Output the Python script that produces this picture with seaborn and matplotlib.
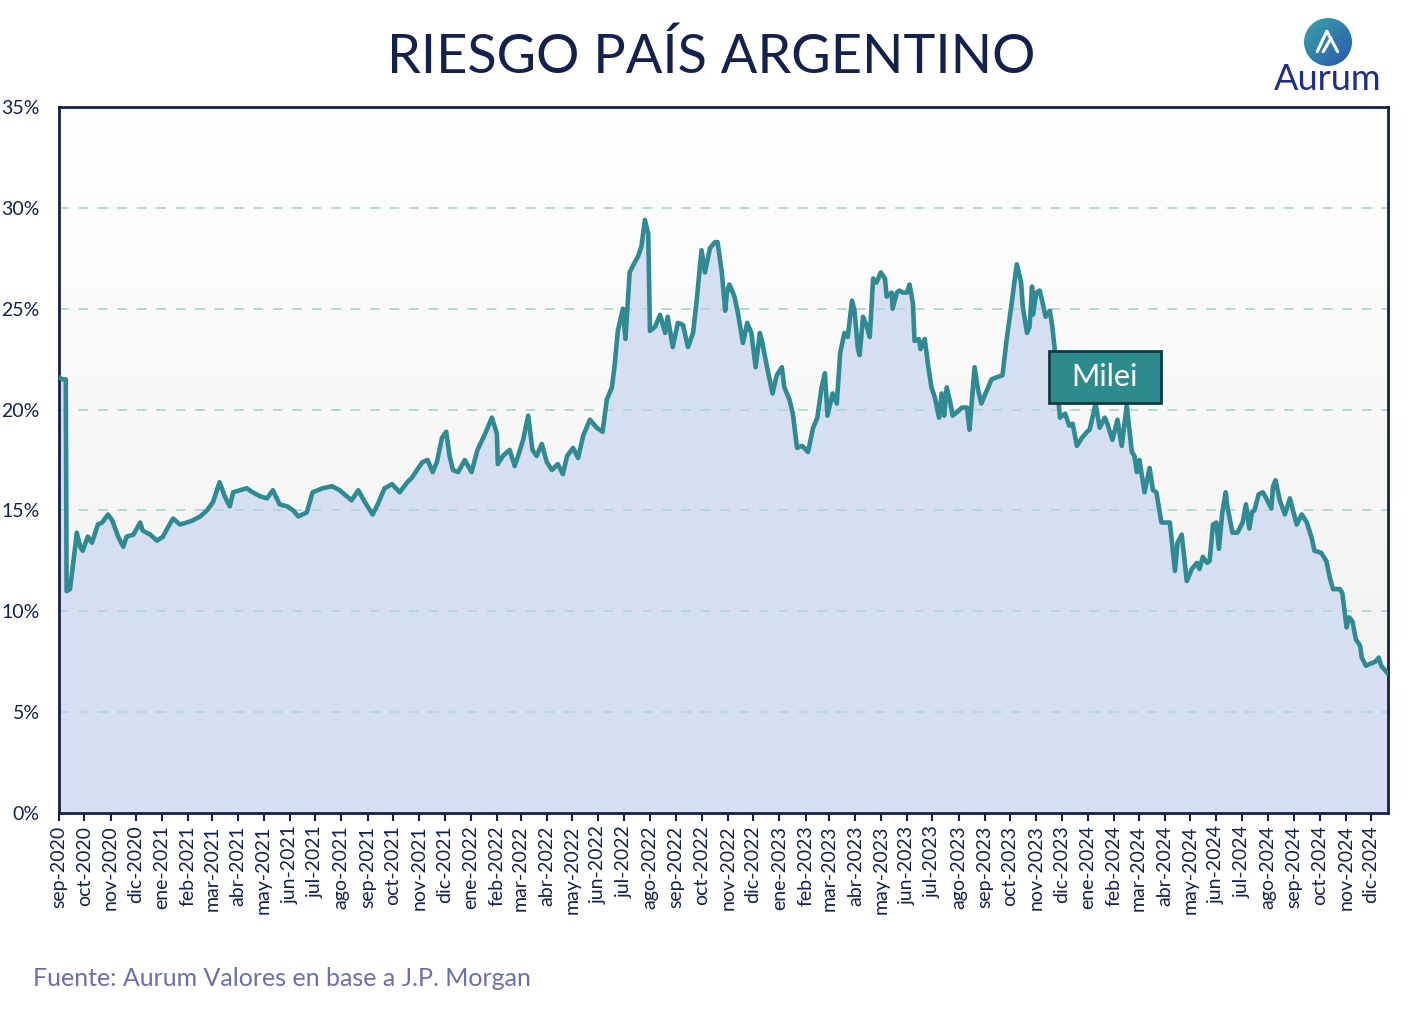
import matplotlib
matplotlib.use('Agg')

import numpy as np
import pandas as pd
import matplotlib.pyplot as plt
import seaborn as sns
from matplotlib.colors import LinearSegmentedColormap
from matplotlib.patches import Circle, Rectangle

# dias desde el inicio de la serie y riesgo pais en %
inicio = '2020-09-01'
dias = [0, 4, 8, 9, 13, 18, 21, 25, 28, 34, 39, 46, 51, 58, 63, 70, 76, 80, 88, 96,
        99, 108, 116, 123, 128, 135, 143, 151, 158, 167, 175, 182, 190, 196, 202, 206, 214, 222, 229, 238,
        246, 253, 261, 270, 277, 283, 293, 300, 312, 323, 332, 346, 354, 362, 371, 377, 385, 394, 403, 412,
        417, 425, 430, 436, 442, 447, 453, 458, 462, 466, 472, 480, 488, 495, 504, 512, 518, 519, 525, 533,
        539, 543, 549, 555, 560, 565, 571, 577, 583, 590, 596, 601, 608, 614, 620, 628, 636, 643, 648, 654,
        657, 661, 667, 670, 675, 681, 685, 689, 693, 697, 699, 705, 711, 717, 720, 726, 732, 738, 744, 750,
        754, 760, 764, 770, 776, 779, 784, 788, 790, 793, 799, 803, 809, 814, 819, 824, 829, 832, 838, 844,
        849, 855, 858, 864, 868, 873, 879, 886, 892, 897, 902, 906, 909, 915, 920, 924, 929, 933, 938, 941,
        945, 947, 951, 955, 959, 963, 967, 972, 977, 979, 985, 986, 991, 994, 998, 1003, 1006, 1010, 1012, 1017,
        1019, 1024, 1028, 1032, 1036, 1041, 1044, 1047, 1050, 1054, 1057, 1063, 1068, 1074, 1077, 1081, 1083, 1087, 1091, 1097,
        1103, 1109, 1116, 1121, 1127, 1130, 1133, 1138, 1140, 1145, 1148, 1151, 1152, 1156, 1160, 1164, 1167, 1172, 1175, 1178,
        1181, 1184, 1190, 1195, 1199, 1204, 1210, 1216, 1219, 1223, 1226, 1231, 1237, 1240, 1246, 1252, 1257, 1263, 1269, 1272,
        1275, 1278, 1284, 1290, 1294, 1298, 1304, 1314, 1320, 1323, 1328, 1334, 1340, 1346, 1349, 1353, 1358, 1361, 1365, 1369,
        1372, 1376, 1380, 1382, 1388, 1394, 1400, 1404, 1408, 1411, 1414, 1419, 1424, 1428, 1434, 1436, 1439, 1444, 1450, 1456,
        1459, 1464, 1470, 1476, 1482, 1485, 1493, 1499, 1503, 1507, 1515, 1518, 1523, 1526, 1530, 1534, 1539, 1541, 1546, 1551,
        1557, 1561, 1564, 1572]
riesgo = [21.6, 21.5, 21.5, 11.0, 11.1, 12.8, 13.9, 13.2, 13.0, 13.7, 13.4, 14.3, 14.4, 14.8, 14.5, 13.7, 13.2, 13.7, 13.8, 14.4,
          14.0, 13.8, 13.5, 13.7, 14.1, 14.6, 14.3, 14.4, 14.5, 14.7, 15.0, 15.4, 16.4, 15.7, 15.2, 15.9, 16.0, 16.1, 15.9, 15.7,
          15.6, 16.0, 15.3, 15.2, 15.0, 14.7, 14.9, 15.9, 16.1, 16.2, 16.0, 15.5, 16.0, 15.4, 14.8, 15.3, 16.1, 16.3, 15.9, 16.4,
          16.6, 17.1, 17.4, 17.5, 16.9, 17.4, 18.6, 18.9, 17.7, 17.0, 16.9, 17.5, 16.9, 18.0, 18.8, 19.6, 18.8, 17.3, 17.7, 18.0,
          17.2, 17.7, 18.5, 19.7, 18.0, 17.7, 18.3, 17.4, 17.0, 17.3, 16.8, 17.7, 18.1, 17.6, 18.7, 19.5, 19.1, 18.9, 20.5, 21.1,
          22.1, 23.9, 25.0, 23.5, 26.8, 27.3, 27.6, 28.1, 29.4, 28.7, 23.9, 24.1, 24.7, 23.8, 24.6, 23.1, 24.3, 24.2, 23.1, 23.8,
          25.3, 27.9, 26.8, 28.0, 28.3, 28.3, 26.8, 24.9, 25.8, 26.2, 25.6, 24.8, 23.3, 24.3, 23.8, 22.1, 23.8, 23.3, 22.0, 20.8,
          21.7, 22.1, 21.1, 20.5, 19.8, 18.1, 18.2, 17.9, 19.1, 19.6, 21.1, 21.8, 19.7, 20.8, 20.3, 22.8, 23.8, 23.6, 25.4, 24.9,
          23.0, 22.7, 24.6, 24.2, 23.6, 26.5, 26.3, 26.8, 26.5, 25.6, 25.8, 25.0, 25.8, 25.9, 25.8, 25.8, 26.2, 25.3, 23.4, 23.5,
          23.0, 23.5, 22.2, 21.1, 20.6, 19.6, 20.8, 19.7, 21.1, 20.4, 19.7, 19.9, 20.1, 20.1, 19.0, 21.1, 22.1, 21.0, 20.3, 20.9,
          21.5, 21.6, 21.7, 23.5, 25.3, 26.3, 27.2, 26.3, 25.1, 23.8, 24.1, 26.1, 24.7, 25.8, 25.9, 25.2, 24.6, 24.9, 24.1, 22.9,
          21.0, 19.6, 19.8, 19.2, 19.3, 18.2, 18.6, 18.9, 19.0, 19.7, 20.3, 19.1, 19.6, 19.3, 18.5, 19.5, 18.2, 20.2, 17.9, 17.7,
          16.9, 17.5, 15.9, 17.1, 16.0, 15.9, 14.4, 14.4, 12.0, 13.4, 13.8, 11.5, 12.1, 12.4, 12.1, 12.7, 12.4, 12.5, 14.3, 14.4,
          13.1, 14.9, 15.9, 15.2, 13.9, 13.9, 14.4, 15.3, 14.1, 14.9, 15.0, 15.8, 15.9, 15.6, 15.1, 16.2, 16.5, 15.5, 14.8, 15.6,
          15.1, 14.3, 14.8, 14.4, 13.6, 13.0, 12.9, 12.5, 11.7, 11.1, 11.1, 10.9, 9.2, 9.7, 9.5, 8.6, 8.3, 7.7, 7.3, 7.4,
          7.5, 7.7, 7.3, 6.9]

meses = ['ene', 'feb', 'mar', 'abr', 'may', 'jun', 'jul', 'ago', 'sep', 'oct', 'nov', 'dic']
yticks = [0, 5, 10, 15, 20, 25, 30, 35]

navy = '#13214f'
teal = '#2f8a93'

df = pd.DataFrame({'fecha': pd.Timestamp(inicio) + pd.to_timedelta(dias, unit='D'),
                   'riesgo': riesgo})

sns.set_theme(style='white')
plt.rcParams['font.family'] = ['Lato', 'DejaVu Sans']

fig = plt.figure(figsize=(14.22, 10.32), dpi=100)
rect = [59 / 1422, 1 - 813 / 1032, (1388 - 59) / 1422, (813 - 107) / 1032]

# fondo con degradado
bg = fig.add_axes(rect, zorder=0)
grad = np.linspace(0, 1, 256).reshape(-1, 1)
bg.imshow(grad, aspect='auto', origin='lower', extent=[0, 1, 0, 1],
          cmap=LinearSegmentedColormap.from_list('bg', ['#efefef', '#ffffff']))
bg.axis('off')

ax = fig.add_axes(rect, zorder=1)
ax.patch.set_alpha(0)

ax.fill_between(df['fecha'], df['riesgo'], color='#d6def1', zorder=2, lw=0)
for v in yticks[1:-1]:
    ax.axhline(v, color='#b3d8d8', lw=1.4, ls=(0, (5, 5)), zorder=2.5)
sns.lineplot(data=df, x='fecha', y='riesgo', color=teal, lw=3.3, ax=ax, zorder=3)

ax.set_xlim(df['fecha'].iloc[0], df['fecha'].iloc[-1])
ax.set_ylim(0, 35)
ax.set_xlabel('')
ax.set_ylabel('')

ticks = pd.date_range(inicio, df['fecha'].iloc[-1], freq='MS')
ax.set_xticks(ticks)
ax.set_xticklabels([f'{meses[t.month - 1]}-{t.year}' for t in ticks], rotation=90)
ax.set_yticks(yticks)
ax.set_yticklabels([f'{v}%' for v in yticks])
ax.tick_params(axis='x', direction='out', length=6, width=1.5, color=navy,
               labelsize=14, labelcolor=navy, pad=3, bottom=True)
ax.tick_params(axis='y', length=0, labelsize=14, labelcolor=navy, pad=14)
for s in ax.spines.values():
    s.set_visible(True)
    s.set_color(navy)
    s.set_linewidth(2)

# recuadro Milei
milei_fecha = pd.Timestamp(inicio) + pd.Timedelta(days=1171)
ax.add_patch(Rectangle((milei_fecha, 20.33), pd.Timedelta(days=132), 2.57,
                       facecolor='#2e8b8d', edgecolor='#103c40', lw=2, zorder=5))
ax.text(milei_fecha + pd.Timedelta(days=66), 21.6, 'Milei', ha='center', va='center',
        fontsize=22, color='white', zorder=6)

fig.text(0.5, 1 - 57 / 1032, 'RIESGO PAÍS ARGENTINO', ha='center', va='center',
         fontsize=39, color=navy)
fig.text(33 / 1422, 1 - 978 / 1032, 'Fuente: Aurum Valores en base a J.P. Morgan',
         ha='left', va='center', fontsize=18, color='#6a6fb0')

# logo
lg = fig.add_axes([1304 / 1422, 1 - 66 / 1032, 48 / 1422, 48 / 1032], zorder=2)
lg.set_xlim(-1, 1)
lg.set_ylim(-1, 1)
circ = Circle((0, 0), 1, transform=lg.transData, facecolor='none', edgecolor='none')
lg.add_patch(circ)
g2 = np.linspace(0, 1, 64)
im = lg.imshow(np.add.outer(g2, g2[::-1]), extent=[-1, 1, -1, 1], origin='lower',
               cmap=LinearSegmentedColormap.from_list('lg', ['#2a55b0', '#3aa6a8']))
im.set_clip_path(circ)
lg.plot([-0.45, -0.05, 0.4], [-0.4, 0.45, -0.4], color='white', lw=2.2, solid_capstyle='round')
lg.plot([-0.2, 0.12], [-0.4, 0.15], color='white', lw=2.2, solid_capstyle='round')
lg.axis('off')
fig.text(1328 / 1422, 1 - 79 / 1032, 'Aurum', ha='center', va='center',
         fontsize=26, color='#1f2f88')

fig.savefig('out.png', dpi=100)
